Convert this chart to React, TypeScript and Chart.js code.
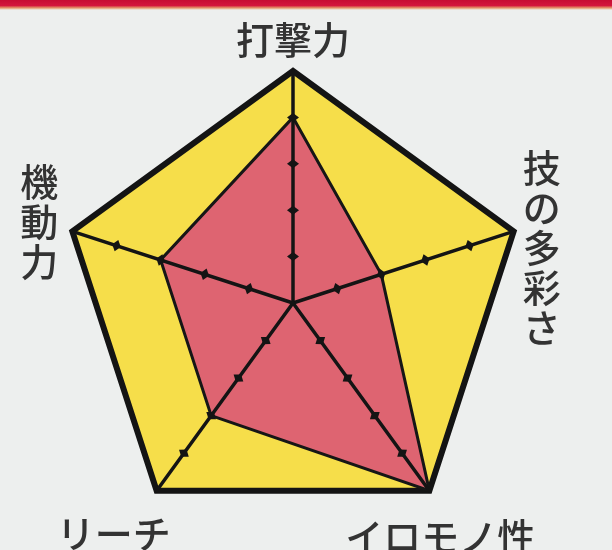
import React, { useEffect, useRef } from 'react';
import { Chart, registerables } from 'chart.js';

Chart.register(...registerables);

const categories = ['打撃力', '技の多彩さ', 'イロモノ性', 'リーチ', '機動力'];
const verticalLabel = [false, true, false, false, true];
const ratings = [4, 2, 5, 3, 3];
const fullScale = [5, 5, 5, 5, 5];
const tickValues = [1, 2, 3, 4];
const scaleMax = 5;

// label placement relative to the outer vertex of each axis (dx, dy of text block centre)
const labelOffsets: [number, number][] = [
  [0, -31],
  [28, 16],
  [11, 46],
  [-43, 43],
  [-33, -10],
];

const axisPlugin = {
  id: 'axisTicks',
  afterDatasetsDraw(chart: any) {
    const scale = chart.scales.r;
    const ctx = chart.ctx;
    ctx.save();
    ctx.strokeStyle = '#141414';
    ctx.fillStyle = '#141414';
    ctx.lineWidth = 3.5;
    ctx.lineCap = 'round';
    for (let i = 0; i < categories.length; i++) {
      const c = scale.getPointPositionForValue(i, 0);
      const p = scale.getPointPositionForValue(i, scaleMax);
      ctx.beginPath();
      ctx.moveTo(c.x, c.y);
      ctx.lineTo(p.x, p.y);
      ctx.stroke();
      const a = Math.atan2(p.y - c.y, p.x - c.x);
      const ux = Math.cos(a), uy = Math.sin(a);
      const px = -uy, py = ux;
      for (const v of tickValues) {
        const q = scale.getPointPositionForValue(i, v);
        ctx.beginPath();
        ctx.moveTo(q.x + ux * 4.5, q.y + uy * 4.5);
        ctx.lineTo(q.x + px * 6, q.y + py * 6);
        ctx.lineTo(q.x - ux * 4.5, q.y - uy * 4.5);
        ctx.lineTo(q.x - px * 6, q.y - py * 6);
        ctx.closePath();
        ctx.fill();
      }
    }
    ctx.restore();
  },
};

const labelPlugin = {
  id: 'axisLabels',
  afterDraw(chart: any) {
    const scale = chart.scales.r;
    const ctx = chart.ctx;
    ctx.save();
    ctx.fillStyle = '#333333';
    ctx.font = '500 38px "Noto Sans CJK JP"';
    ctx.textAlign = 'center';
    ctx.textBaseline = 'middle';
    const lineH = 40;
    categories.forEach((label, i) => {
      const v = scale.getPointPositionForValue(i, scaleMax);
      const cx = v.x + labelOffsets[i][0];
      const cy = v.y + labelOffsets[i][1];
      if (verticalLabel[i]) {
        const chars = Array.from(label);
        const y0 = cy - ((chars.length - 1) * lineH) / 2;
        chars.forEach((ch, k) => ctx.fillText(ch, cx, y0 + k * lineH));
      } else {
        ctx.fillText(label, cx, cy);
      }
    });
    ctx.restore();
  },
};

export default function App() {
  const ref = useRef<HTMLCanvasElement>(null);
  useEffect(() => {
    if (!ref.current) return;
    const chart = new Chart(ref.current, {
      type: 'radar',
      data: {
        labels: categories,
        datasets: [
          {
            data: ratings,
            backgroundColor: '#DE6471',
            borderColor: '#161616',
            borderWidth: 3,
            pointRadius: 0,
            fill: true,
          },
          {
            data: fullScale,
            backgroundColor: '#F6DE4A',
            borderColor: '#141414',
            borderWidth: 6,
            borderJoinStyle: 'miter',
            pointRadius: 0,
            fill: true,
          },
        ],
      },
      options: {
        animation: false,
        responsive: true,
        maintainAspectRatio: false,
        layout: { padding: { left: 61, top: 71, right: 87, bottom: 15 } },
        plugins: { legend: { display: false }, tooltip: { enabled: false } },
        scales: {
          r: {
            min: 0,
            max: scaleMax,
            ticks: { display: false, stepSize: 1 },
            grid: { display: false },
            angleLines: { display: false },
            pointLabels: { display: false },
          },
        },
      },
      plugins: [axisPlugin, labelPlugin],
    } as any);
    return () => chart.destroy();
  }, []);
  return (
    <div
      style={{
        position: 'fixed',
        left: 0,
        top: 0,
        width: 612,
        height: 550,
        background: '#EDEFEE',
        overflow: 'hidden',
      }}
    >
      <div
        style={{
          position: 'absolute',
          left: 0,
          top: 0,
          width: 612,
          height: 10,
          background: 'linear-gradient(#c60c33 0%, #d3153c 55%, #e49a6a 80%, #EDEFEE 100%)',
        }}
      />
      <canvas ref={ref} style={{ position: 'absolute', left: 0, top: 0 }} />
    </div>
  );
}
